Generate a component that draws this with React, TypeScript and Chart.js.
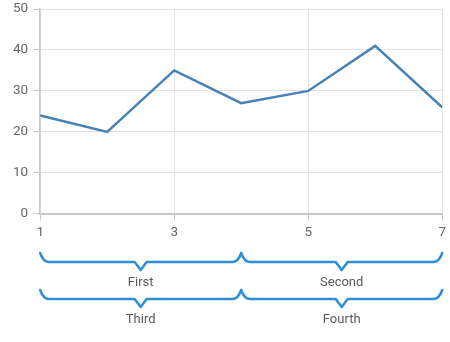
import React, { useEffect, useRef } from "react";
import { Chart, registerables } from "chart.js";

Chart.register(...registerables);

const xValues = [1, 2, 3, 4, 5, 6, 7];
const yValues = [24, 20, 35, 27, 30, 41, 26];
const groupRows = [
  [
    { label: "First", from: 1, to: 4 },
    { label: "Second", from: 4, to: 7 },
  ],
  [
    { label: "Third", from: 1, to: 4 },
    { label: "Fourth", from: 4, to: 7 },
  ],
];

const FONT = "Roboto, 'Noto Sans', sans-serif";

const bracePlugin = {
  id: "braces",
  afterDraw(chart: any) {
    const ctx = chart.ctx;
    const xs = chart.scales.x;
    const rowTop = [253, 290];
    ctx.save();
    groupRows.forEach((row, ri) => {
      const top = rowTop[ri];
      const base = top + 9;
      row.forEach((g) => {
        const x0 = xs.getPixelForValue(g.from);
        const x1 = xs.getPixelForValue(g.to);
        const mid = (x0 + x1) / 2;
        ctx.strokeStyle = "#2f8ed6";
        ctx.lineWidth = 2.5;
        ctx.lineJoin = "round";
        ctx.lineCap = "round";
        ctx.beginPath();
        ctx.moveTo(x0, top);
        ctx.quadraticCurveTo(x0 + 3, base, x0 + 9, base);
        ctx.lineTo(mid - 6, base);
        ctx.lineTo(mid, base + 8);
        ctx.lineTo(mid + 6, base);
        ctx.lineTo(x1 - 9, base);
        ctx.quadraticCurveTo(x1 - 3, base, x1, top);
        ctx.stroke();
        ctx.fillStyle = "#5a5a5a";
        ctx.font = `13px ${FONT}`;
        ctx.textAlign = "center";
        ctx.textBaseline = "middle";
        ctx.fillText(g.label, mid, base + 21);
      });
    });
    ctx.restore();
  },
};

export default function App() {
  const ref = useRef<HTMLCanvasElement>(null);
  useEffect(() => {
    document.body.style.margin = "0";
    const chart = new Chart(ref.current!, {
      type: "line",
      data: {
        datasets: [
          {
            data: xValues.map((x, i) => ({ x, y: yValues[i] })),
            borderColor: "#4682b4",
            borderWidth: 2.5,
            pointRadius: 0,
            tension: 0,
            fill: false,
          },
        ],
      },
      options: {
        animation: false,
        responsive: false,
        maintainAspectRatio: false,
        layout: { padding: { top: 9, right: 6, bottom: 97, left: 8 } },
        plugins: { legend: { display: false }, tooltip: { enabled: false } },
        scales: {
          x: {
            type: "linear",
            min: 1,
            max: 7,
            ticks: {
              stepSize: 2,
              color: "#666",
              font: { family: FONT, size: 13.5 },
              padding: 4,
            },
            grid: { color: "#e3e3e3", tickLength: 7, tickColor: "#c8c8c8" },
            border: { color: "#c8c8c8", width: 2 },
          },
          y: {
            min: 0,
            max: 50,
            afterFit: (s: any) => {
              s.paddingTop = 0;
            },
            ticks: {
              stepSize: 10,
              color: "#666",
              font: { family: FONT, size: 13.5 },
              padding: 5,
            },
            grid: { color: "#e3e3e3", tickLength: 7, tickColor: "#c8c8c8" },
            border: { color: "#c8c8c8", width: 1.5 },
          },
        },
      },
      plugins: [bracePlugin],
    });
    return () => chart.destroy();
  }, []);
  return <canvas ref={ref} width={450} height={342} style={{ display: "block" }} />;
}
